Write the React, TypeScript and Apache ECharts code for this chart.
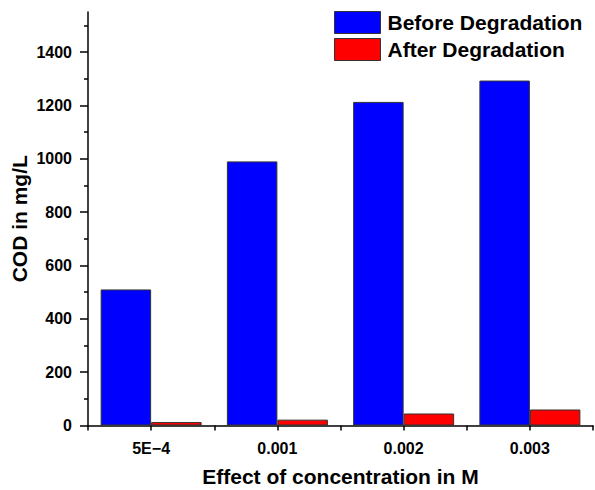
import React, { useEffect, useRef } from "react";
import * as echarts from "echarts";

const categories = ["5E\u22124", "0.001", "0.002", "0.003"];
const beforeDegradation = [510, 990, 1213, 1293];
const afterDegradation = [13, 22, 45, 60];
const yMajorTicks = [0, 200, 400, 600, 800, 1000, 1200, 1400];
const yMinorTicks = [100, 300, 500, 700, 900, 1100, 1300, 1500];

const FONT = "'Liberation Sans', Arial, sans-serif";

export default function App() {
  const ref = useRef<HTMLDivElement>(null);

  useEffect(() => {
    if (!ref.current) return;
    const chart = echarts.init(ref.current, null, { renderer: "svg" });
    const lineStyle = { color: "#000", width: 1.5 };
    chart.setOption({
      animation: false,
      backgroundColor: "#fff",
      textStyle: { fontFamily: FONT },
      grid: { left: 88, right: 2, top: 12, bottom: 64.5, containLabel: false, outerBoundsMode: "none" },
      legend: {
        orient: "vertical",
        left: 334,
        top: 11,
        padding: 0,
        icon: "rect",
        itemWidth: 46,
        itemHeight: 22,
        itemGap: 4,
        itemStyle: { borderColor: "#333", borderWidth: 1 },
        textStyle: { fontFamily: FONT, fontWeight: "bold", fontSize: 21, color: "#000", padding: [0, 0, 0, 2] },
        data: ["Before Degradation", "After Degradation"],
      },
      xAxis: [
        {
          type: "category",
          data: categories,
          boundaryGap: true,
          axisLine: { show: true, lineStyle },
          axisTick: { show: true, inside: false, alignWithLabel: false, length: 5, lineStyle },
          axisLabel: { fontFamily: FONT, fontWeight: "bold", fontSize: 16, color: "#000", margin: 15 },
          name: "Effect of concentration in M",
          nameLocation: "middle",
          nameGap: 40,
          nameMoveOverlap: false,
          nameTextStyle: { fontFamily: FONT, fontWeight: "bold", fontSize: 21, color: "#000" },
        },
        {
          type: "category",
          data: categories,
          position: "bottom",
          boundaryGap: true,
          axisLine: { show: false },
          axisTick: { show: true, inside: false, alignWithLabel: true, length: 5, lineStyle },
          axisLabel: { show: false },
        },
      ],
      yAxis: [
        {
          type: "value",
          min: 0,
          max: 1550,
          interval: 200,
          splitLine: { show: false },
          axisLine: { show: true, lineStyle },
          axisTick: { show: true, inside: false, length: 8, customValues: yMajorTicks, lineStyle },
          axisLabel: {
            show: true,
            customValues: yMajorTicks,
            formatter: (v: number) => String(v),
            fontFamily: FONT,
            fontWeight: "bold",
            fontSize: 16,
            color: "#000",
            margin: 16,
          },
          name: "COD in mg/L",
          nameLocation: "middle",
          nameGap: 58,
          nameMoveOverlap: false,
          nameTextStyle: { fontFamily: FONT, fontWeight: "bold", fontSize: 21, color: "#000" },
        },
        {
          type: "value",
          min: 0,
          max: 1550,
          interval: 100,
          position: "left",
          splitLine: { show: false },
          axisLine: { show: false },
          axisTick: { show: true, inside: false, length: 4, customValues: yMinorTicks, lineStyle },
          axisLabel: { show: false },
        },
      ],
      series: [
        {
          name: "Before Degradation",
          type: "bar",
          data: beforeDegradation,
          barCategoryGap: "20%",
          barGap: "0%",
          itemStyle: { color: "#0000ff", borderColor: "#333", borderWidth: 1 },
        },
        {
          name: "After Degradation",
          type: "bar",
          data: afterDegradation,
          barCategoryGap: "20%",
          barGap: "0%",
          itemStyle: { color: "#ff0000", borderColor: "#333", borderWidth: 1 },
        },
      ],
    });
    return () => chart.dispose();
  }, []);

  return <div ref={ref} style={{ width: 595, height: 490, position: "absolute", left: 0, top: 0 }} />;
}
